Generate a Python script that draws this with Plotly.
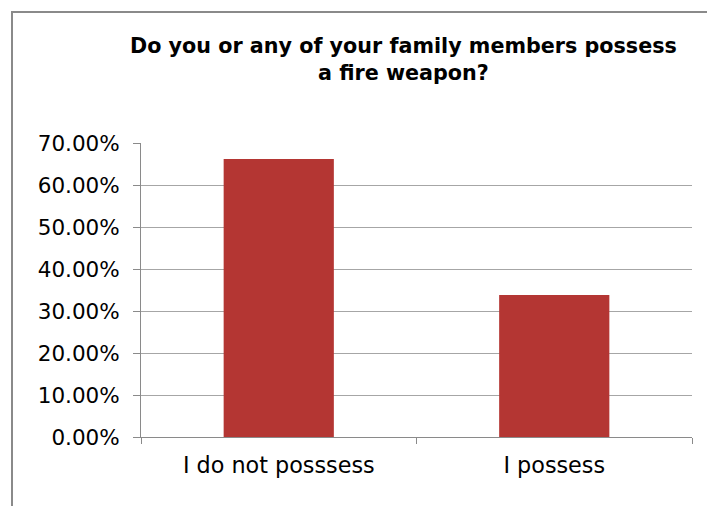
import plotly.graph_objects as go

# Survey answers and their shares
categories = ["I do not posssess", "I possess"]
shares = [0.662, 0.338]
y_ticks = [0.0, 0.1, 0.2, 0.3, 0.4, 0.5, 0.6, 0.7]

title_text = "Do you or any of your family members possess<br>a fire weapon?"

FONT = "DejaVu Sans, Verdana, sans-serif"
W, H = 707, 506
M_L, M_R, M_T, M_B = 141, 15, 143, 69
PW, PH = W - M_L - M_R, H - M_T - M_B


def px_x(x):
    return (x - M_L) / PW


def px_y(y):
    return 1 + (M_T - y) / PH


fig = go.Figure(
    go.Bar(
        x=categories,
        y=shares,
        marker=dict(color="rgb(180,54,51)", line=dict(width=0)),
        width=0.4,
        hoverinfo="x+y",
    )
)

fig.update_layout(
    width=W,
    height=H,
    margin=dict(l=M_L, r=M_R, t=M_T, b=M_B, pad=0),
    paper_bgcolor="white",
    plot_bgcolor="white",
    showlegend=False,
    font=dict(family=FONT, color="black"),
    xaxis=dict(
        showline=True,
        linecolor="#8a8a8a",
        linewidth=1,
        ticks="outside",
        tickson="boundaries",
        ticklen=6,
        tickcolor="#8a8a8a",
        tickfont=dict(size=22.3),
        showgrid=False,
        ticklabelstandoff=8,
    ),
    yaxis=dict(
        range=[0, 0.7],
        tickvals=y_ticks,
        tickformat=".2%",
        showline=True,
        linecolor="#8a8a8a",
        linewidth=1,
        ticks="outside",
        ticklen=7,
        tickcolor="#8a8a8a",
        tickfont=dict(size=21.5),
        showgrid=True,
        gridcolor="#a6a6a6",
        gridwidth=1,
        zeroline=False,
        ticklabelstandoff=9,
    ),
    annotations=[
        dict(
            text=title_text,
            xref="paper",
            yref="paper",
            x=px_x(403),
            y=px_y(59),
            xanchor="center",
            yanchor="middle",
            showarrow=False,
            align="center",
            font=dict(family=FONT, size=20.7, color="black", weight="bold"),
        )
    ],
    shapes=[
        dict(
            type="rect",
            xref="paper",
            yref="paper",
            x0=px_x(12),
            x1=px_x(W + 20),
            y0=px_y(H + 20),
            y1=px_y(12),
            line=dict(color="#8a8a8a", width=2),
            fillcolor="rgba(0,0,0,0)",
            layer="below",
        )
    ],
)

fig.write_html("out.html")
